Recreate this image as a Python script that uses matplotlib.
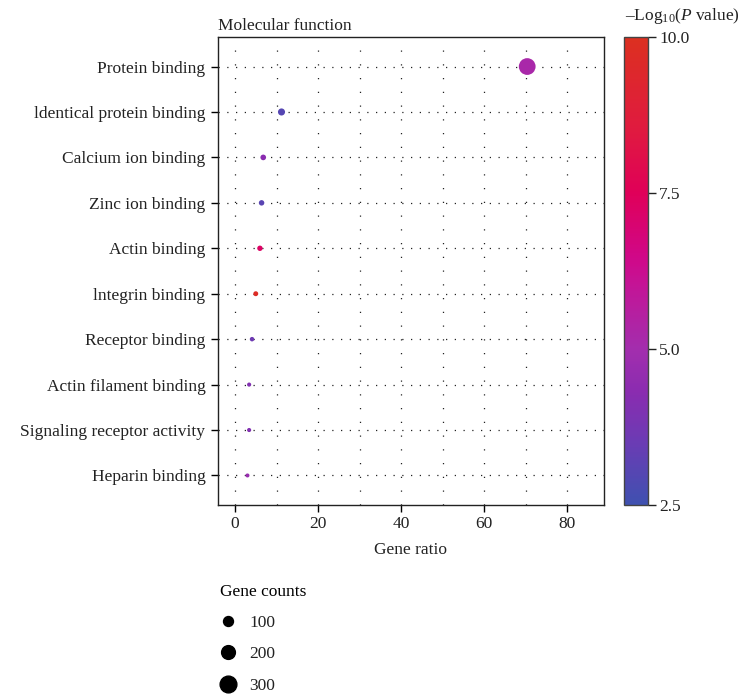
import numpy as np
import matplotlib
matplotlib.use("Agg")
import matplotlib.pyplot as plt
from matplotlib.colors import LinearSegmentedColormap, Normalize
from matplotlib.lines import Line2D

plt.rcParams['font.family'] = ['Liberation Serif', 'DejaVu Serif']
plt.rcParams['mathtext.fontset'] = 'custom'
plt.rcParams['mathtext.rm'] = 'Liberation Serif'
plt.rcParams['mathtext.it'] = 'Liberation Serif:italic'

# GO molecular function enrichment
terms = [
    "Protein binding",
    "ldentical protein binding",
    "Calcium ion binding",
    "Zinc ion binding",
    "Actin binding",
    "lntegrin binding",
    "Receptor binding",
    "Actin filament binding",
    "Signaling receptor activity",
    "Heparin binding",
]
gene_ratio = [70.4, 11.2, 6.8, 6.4, 6.0, 5.0, 4.1, 3.4, 3.4, 3.0]
gene_counts = [300, 48, 29, 27, 26, 21, 17, 14, 14, 13]
neg_log_p = [5.2, 3.0, 4.3, 3.1, 7.3, 9.7, 3.6, 4.1, 4.1, 4.7]
legend_counts = [100, 200, 300]

FS = 12.5

# blue -> purple -> magenta -> red
cmap = LinearSegmentedColormap.from_list("go", [
    (0.00, "#3f51b0"),
    (0.13, "#6a3cb4"),
    (0.24, "#8a2cb0"),
    (0.33, "#a22eae"),
    (0.47, "#c41496"),
    (0.53, "#d00888"),
    (0.67, "#e00058"),
    (0.80, "#e01a40"),
    (1.00, "#dc3020"),
])
norm = Normalize(vmin=2.5, vmax=10.0)


def dot_size(c):
    # diameter in pixels grows with sqrt(count), returned as points^2
    d_px = 0.65 + 0.93 * np.sqrt(c)
    return (d_px * 0.72) ** 2


fig = plt.figure(figsize=(7.43, 6.95), dpi=100)
ax = fig.add_axes([218 / 743, 1 - 505 / 695, 386 / 743, 468 / 695])

ypos = np.arange(1, len(terms) + 1)

# dotted grid
for x in range(0, 90, 10):
    ax.axvline(x, color="#222222", linestyle=(0, (1, 10)), linewidth=0.9, zorder=0)
for y in ypos:
    ax.axhline(y, color="#222222", linestyle=(0, (1, 6)), linewidth=0.9, zorder=0)

sc = ax.scatter(gene_ratio, ypos, s=[dot_size(c) for c in gene_counts],
                c=neg_log_p, cmap=cmap, norm=norm, linewidths=0, zorder=3)

ax.set_xlim(-4.1, 88.9)
ax.set_ylim(10.65, 0.35)
ax.set_xticks([0, 20, 40, 60, 80])
ax.set_yticks(ypos)
ax.set_yticklabels(terms)
ax.tick_params(axis="both", labelsize=FS, length=5, width=1, color="black", labelcolor="#222222")
ax.tick_params(axis="y", pad=4)
ax.tick_params(axis="x", pad=3)
for sp in ax.spines.values():
    sp.set_linewidth(1.0)
    sp.set_color("#222222")

ax.set_xlabel("Gene ratio", fontsize=FS, color="#222222", labelpad=7)
ax.set_title("Molecular function", fontsize=FS, color="#222222", loc="left", pad=5)

# colour bar
cax = fig.add_axes([624 / 743, 1 - 505 / 695, 24 / 743, 468 / 695])
cb = fig.colorbar(sc, cax=cax, ticks=[2.5, 5.0, 7.5, 10.0])
cb.ax.set_yticklabels(["2.5", "5.0", "7.5", "10.0"])
cb.ax.tick_params(labelsize=FS, length=6, width=1, color="#222222", labelcolor="#222222", pad=2)
cb.outline.set_linewidth(1.0)
cb.outline.set_edgecolor("#444444")
fig.text(682 / 743, 1 - 16 / 695, r"–Log$_{10}$($\mathit{P}$ value)", fontsize=FS,
         color="#222222", ha="center", va="center")

# size legend
handles = [Line2D([], [], linestyle="none", marker="o", color="black",
                  markersize=np.sqrt(dot_size(c))) for c in legend_counts]
leg = fig.legend(handles, [str(c) for c in legend_counts], title="Gene counts",
                 loc="upper left", bbox_to_anchor=(204 / 743, 1 - 568 / 695),
                 frameon=False, fontsize=FS, title_fontsize=FS,
                 handlelength=1.0, handletextpad=0.7, labelspacing=0.88)
leg._legend_box.align = "left"
for t in leg.get_texts():
    t.set_color("#222222")

fig.savefig("out.png", dpi=100)
